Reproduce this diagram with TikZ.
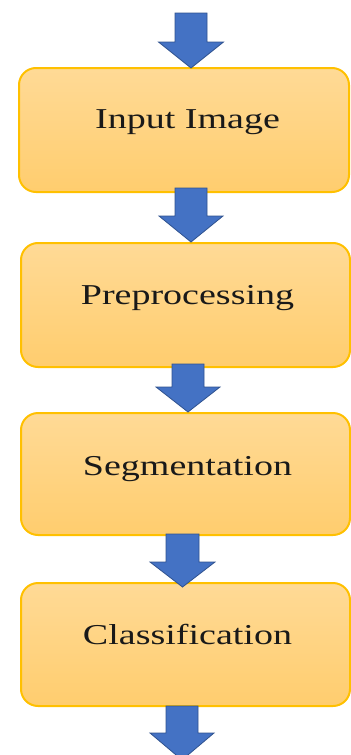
\documentclass[tikz,border=0pt]{standalone}
\usepackage{fontspec}
\setmainfont{Liberation Serif}
\usetikzlibrary{calc}

\definecolor{boxtop}{RGB}{255,218,150}
\definecolor{boxbot}{RGB}{255,205,110}
\definecolor{boxline}{RGB}{255,192,0}
\definecolor{arrfill}{RGB}{68,114,196}
\definecolor{arrline}{RGB}{47,82,143}

\tikzset{
  stagebox/.style={draw=boxline, line width=1pt, rounded corners=8.5pt,
    top color=boxtop, bottom color=boxbot, inner sep=0pt},
  stagetext/.style={anchor=base, inner sep=0pt, text=black!90,
    font=\fontsize{14.4}{17}\selectfont},
  blockarrow/.style={fill=arrfill, draw=arrline, line width=0.4pt, line join=miter}
}

% block arrow: centre x, shaft top, head start, tip, shaft half width, head half width
\newcommand\flowarrow[6]{%
  \draw[blockarrow] (#1-#5,#2) -- (#1+#5,#2) -- (#1+#5,#3) -- (#1+#6,#3)
    -- (#1,#4) -- (#1-#6,#3) -- (#1-#5,#3) -- cycle;}

\newcommand\stagelabel[1]{\scalebox{1.32}[1]{#1}}

\begin{document}
\begin{tikzpicture}[x=0.5pt, y=-0.5pt]
  \useasboundingbox (0,0) rectangle (350,755);

  % stages
  \path[stagebox] (19,68) rectangle (349,192);
  \path[stagebox] (21,243) rectangle (350,367);
  \path[stagebox] (21,413) rectangle (350,535);
  \path[stagebox] (21,583) rectangle (350,706);

  \node[stagetext] (t1) at (187.5,128) {\stagelabel{Input Image}};
  \node[stagetext] (t2) at (187.5,304) {\stagelabel{Preprocessing}};
  \node[stagetext] (t3) at (187.5,475) {\stagelabel{Segmentation}};
  \node[stagetext] (t4) at (187.5,644) {\stagelabel{Classification}};

  % arrows between stages
  \flowarrow{191}{13}{42}{68}{16}{32.5}
  \flowarrow{191}{188}{216}{242}{16}{32}
  \flowarrow{188}{364}{387}{412}{16}{32}
  \flowarrow{182.5}{534}{562}{587}{16.5}{32.5}
  \flowarrow{182}{706}{733}{760}{16}{32}
\end{tikzpicture}
\end{document}
